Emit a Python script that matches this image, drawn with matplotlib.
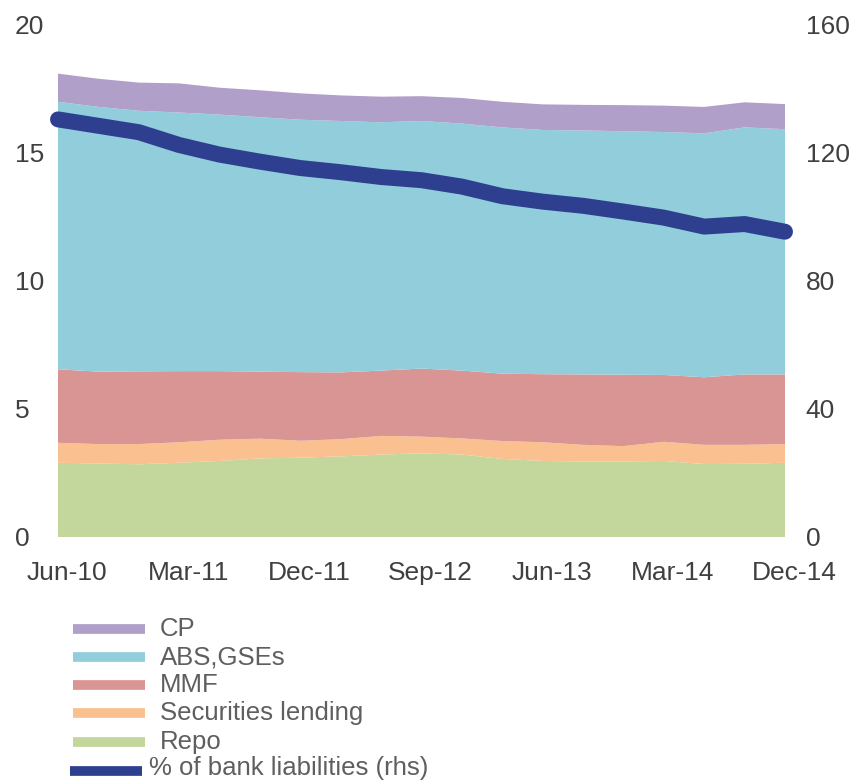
import matplotlib
matplotlib.use('Agg')
import numpy as np
import matplotlib.pyplot as plt
import matplotlib.transforms as mtransforms
from matplotlib.lines import Line2D

plt.rcParams['font.family'] = ['Liberation Sans', 'DejaVu Sans']

# quarterly, Jun-10 .. Dec-14
quarters = ['Jun-10', 'Sep-10', 'Dec-10', 'Mar-11', 'Jun-11', 'Sep-11', 'Dec-11',
            'Mar-12', 'Jun-12', 'Sep-12', 'Dec-12', 'Mar-13', 'Jun-13', 'Sep-13',
            'Dec-13', 'Mar-14', 'Jun-14', 'Sep-14', 'Dec-14']
tick_labels = ['Jun-10', 'Mar-11', 'Dec-11', 'Sep-12', 'Jun-13', 'Mar-14', 'Dec-14']

repo = [2.90, 2.87, 2.84, 2.90, 2.97, 3.07, 3.10, 3.15, 3.22, 3.27, 3.22, 3.05,
        2.97, 2.95, 2.95, 2.97, 2.85, 2.86, 2.90]
sec_lending = [0.78, 0.76, 0.79, 0.80, 0.83, 0.77, 0.66, 0.67, 0.73, 0.65, 0.63, 0.70,
               0.73, 0.65, 0.60, 0.75, 0.75, 0.74, 0.73]
mmf = [2.87, 2.83, 2.84, 2.78, 2.68, 2.62, 2.68, 2.61, 2.55, 2.66, 2.65, 2.63,
       2.66, 2.75, 2.79, 2.61, 2.64, 2.75, 2.72]
abs_gse = [10.45, 10.34, 10.18, 10.10, 10.02, 9.94, 9.86, 9.82, 9.70, 9.67, 9.65, 9.62,
           9.54, 9.53, 9.51, 9.49, 9.53, 9.65, 9.58]
cp = [1.10, 1.10, 1.10, 1.14, 1.05, 1.05, 1.03, 1.00, 1.00, 0.97, 1.00, 1.00,
      1.00, 1.00, 1.02, 1.03, 1.03, 0.98, 0.98]
pct_bank_liab = [130.5, 128.5, 126.5, 122.5, 119.5, 117.3, 115.3, 114.0, 112.5, 111.5,
                 109.5, 106.5, 104.8, 103.5, 101.7, 99.8, 97.0, 97.8, 95.4]

names = ['CP', 'ABS,GSEs', 'MMF', 'Securities lending', 'Repo']
colors = ['#B09FC8', '#92CDDC', '#D99594', '#FAC090', '#C3D69B']
line_color = '#2E3F8F'
tick_color = '#404040'

W, H = 855, 781
fig = plt.figure(figsize=(W / 100, H / 100), dpi=100)
ax = fig.add_axes([58 / W, 1 - 537 / H, (785 - 58) / W, (537 - 25) / H])

x = np.arange(len(quarters))
ax.stackplot(x, repo, sec_lending, mmf, abs_gse, cp,
             colors=colors[::-1], linewidth=0, antialiased=True)
ax.set_xlim(0, len(quarters) - 1)
ax.set_ylim(0, 20)
ax.set_yticks([0, 5, 10, 15, 20])

ticks = [quarters.index(t) for t in tick_labels]
ax.set_xticks(ticks)
ax.set_xticklabels(tick_labels)

ax2 = ax.twinx()
ax2.plot(x, pct_bank_liab, color=line_color, lw=11.5, solid_capstyle='round',
         solid_joinstyle='round', clip_on=False)
ax2.set_ylim(0, 160)
ax2.set_yticks([0, 40, 80, 120, 160])

for a in (ax, ax2):
    for s in a.spines.values():
        s.set_visible(False)
ax.tick_params(axis='both', length=0, labelsize=19, colors=tick_color)
ax.tick_params(axis='x', pad=17.5)
ax.tick_params(axis='y', pad=31)
for lab in ax.get_yticklabels():
    lab.set_horizontalalignment('left')
ax2.tick_params(axis='y', length=0, labelsize=19, colors=tick_color, pad=15)

off = mtransforms.ScaledTranslation(9 / 100, 0, fig.dpi_scale_trans)
for lab in ax.get_xticklabels():
    lab.set_transform(lab.get_transform() + off)

# legend drawn below the plot
def fx(px):
    return px / W

def fy(py):
    return 1 - py / H

rows = [629, 657, 685, 713, 742]
for name, c, yy in zip(names, colors, rows):
    fig.add_artist(Line2D([fx(73), fx(145)], [fy(yy), fy(yy)], color=c, lw=7,
                          solid_capstyle='butt', transform=fig.transFigure))
    fig.text(fx(160), fy(yy), name, fontsize=18.5, color='#5f5f5f', va='center', ha='left')
fig.add_artist(Line2D([fx(70), fx(142)], [fy(771), fy(771)], color=line_color, lw=7,
                      solid_capstyle='butt', transform=fig.transFigure))
fig.text(fx(149), fy(768), '% of bank liabilities (rhs)', fontsize=18.5, color='#5f5f5f',
         va='center', ha='left')

fig.savefig('out.png', dpi=100, facecolor='white')
